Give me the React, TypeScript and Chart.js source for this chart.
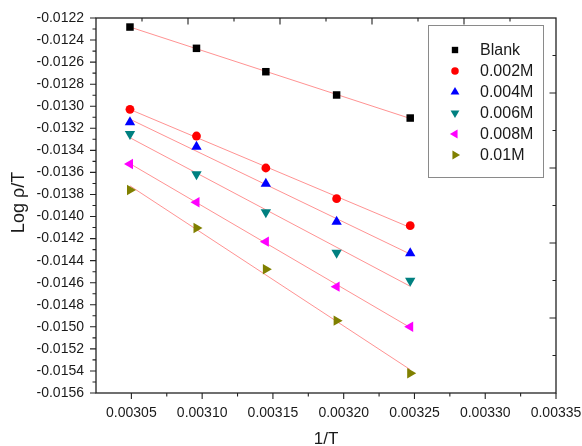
import React, { useEffect, useRef } from 'react';
import { Chart, registerables } from 'chart.js';

Chart.register(...registerables);

// 1/T (K^-1) at the five measuring temperatures
const INV_T = [0.003049, 0.003096, 0.003145, 0.003195, 0.003247];

// Log ρ/T for each inhibitor concentration
const BLANK = [-0.012282, -0.012475, -0.012687, -0.012898, -0.013107];
const C_0002 = [-0.013028, -0.01327, -0.01356, -0.013838, -0.014083];
const C_0004 = [-0.013146, -0.013367, -0.013702, -0.014047, -0.014334];
const C_0006 = [-0.013252, -0.013617, -0.013962, -0.014328, -0.014582];
const C_0008 = [-0.013524, -0.013871, -0.014228, -0.014636, -0.014999];
const C_001 = [-0.01376, -0.014104, -0.014478, -0.014944, -0.015421];

const SERIES_NAMES = ['Blank', '0.002M', '0.004M', '0.006M', '0.008M', '0.01M'];
const SERIES_VALUES = [BLANK, C_0002, C_0004, C_0006, C_0008, C_001];

const X_TICKS = [0.00305, 0.0031, 0.00315, 0.0032, 0.00325, 0.0033, 0.00335];
const Y_TICKS = [
  -0.0156, -0.0154, -0.0152, -0.015, -0.0148, -0.0146, -0.0144, -0.0142, -0.014,
  -0.0138, -0.0136, -0.0134, -0.0132, -0.013, -0.0128, -0.0126, -0.0124, -0.0122,
];
const X_MIN = 0.003025;
const X_MAX = 0.00335;

const MARKERS = [
  { color: '#000000', pointStyle: 'rect', radius: 5.3, rotation: 0 },
  { color: '#ff0000', pointStyle: 'circle', radius: 4.4, rotation: 0 },
  { color: '#0000ff', pointStyle: 'triangle', radius: 6, rotation: 0 },
  { color: '#008080', pointStyle: 'triangle', radius: 6, rotation: 180 },
  { color: '#ff00ff', pointStyle: 'triangle', radius: 6, rotation: -90 },
  { color: '#808000', pointStyle: 'triangle', radius: 6, rotation: 90 },
];

const FONT = "'Liberation Sans', Arial, sans-serif";
const TEXT = '#1a1a1a';
const AXIS = '#222222';

// least-squares line through a series, returned as its two end points
function linearFit(xs: number[], ys: number[]) {
  const n = xs.length;
  const mx = xs.reduce((a, b) => a + b, 0) / n;
  const my = ys.reduce((a, b) => a + b, 0) / n;
  let sxy = 0;
  let sxx = 0;
  for (let i = 0; i < n; i++) {
    sxy += (xs[i] - mx) * (ys[i] - my);
    sxx += (xs[i] - mx) * (xs[i] - mx);
  }
  const slope = sxy / sxx;
  const x0 = xs[0];
  const x1 = xs[n - 1];
  return [
    { x: x0, y: my + slope * (x0 - mx) },
    { x: x1, y: my + slope * (x1 - mx) },
  ];
}

function drawMarker(ctx: CanvasRenderingContext2D, m: any, x: number, y: number, scale = 1) {
  const r = m.radius * scale;
  ctx.save();
  ctx.fillStyle = m.color;
  ctx.beginPath();
  if (m.pointStyle === 'rect') {
    const s = Math.SQRT1_2 * r;
    ctx.rect(x - s, y - s, 2 * s, 2 * s);
  } else if (m.pointStyle === 'circle') {
    ctx.arc(x, y, r, 0, Math.PI * 2);
  } else {
    let rad = (m.rotation * Math.PI) / 180;
    ctx.moveTo(x + Math.sin(rad) * r, y - Math.cos(rad) * r);
    rad += (2 * Math.PI) / 3;
    ctx.lineTo(x + Math.sin(rad) * r, y - Math.cos(rad) * r);
    rad += (2 * Math.PI) / 3;
    ctx.lineTo(x + Math.sin(rad) * r, y - Math.cos(rad) * r);
    ctx.closePath();
  }
  ctx.fill();
  ctx.restore();
}

// frame, tick marks, axis titles and the legend box
const framePlugin = {
  id: 'frame',
  beforeDatasetsDraw(chart: any) {
    const { ctx, chartArea: a, scales } = chart;
    const xs = scales.x;
    const ys = scales.y;
    ctx.save();
    ctx.strokeStyle = AXIS;
    ctx.lineWidth = 1.3;
    ctx.strokeRect(a.left, a.top, a.right - a.left, a.bottom - a.top);

    ctx.lineWidth = 1.1;
    ctx.beginPath();
    // bottom axis: outward ticks
    for (let i = 0; i < X_TICKS.length; i++) {
      const px = xs.getPixelForValue(X_TICKS[i]);
      ctx.moveTo(px, a.bottom);
      ctx.lineTo(px, a.bottom + 6);
      const mid = xs.getPixelForValue(X_TICKS[i] - 0.000025);
      if (mid > a.left + 1) {
        ctx.moveTo(mid, a.bottom);
        ctx.lineTo(mid, a.bottom + 3.5);
      }
    }
    // left axis: outward ticks
    for (let i = 0; i < Y_TICKS.length; i++) {
      const py = ys.getPixelForValue(Y_TICKS[i]);
      ctx.moveTo(a.left, py);
      ctx.lineTo(a.left - 6, py);
      if (i > 0) {
        const mid = ys.getPixelForValue(Y_TICKS[i] - 0.0001);
        ctx.moveTo(a.left, mid);
        ctx.lineTo(a.left - 3.5, mid);
      }
    }
    // top and right axes: inward ticks
    const w = a.right - a.left;
    const h = a.bottom - a.top;
    for (let k = 1; k < 10; k++) {
      const len = k % 2 === 0 ? 6.5 : 3.5;
      const px = a.left + (w * k) / 10;
      ctx.moveTo(px, a.top);
      ctx.lineTo(px, a.top + len);
      const py = a.top + (h * k) / 10;
      ctx.moveTo(a.right, py);
      ctx.lineTo(a.right - len, py);
    }
    ctx.stroke();

    // axis titles
    ctx.fillStyle = TEXT;
    ctx.font = `17px ${FONT}`;
    ctx.textAlign = 'center';
    ctx.textBaseline = 'middle';
    ctx.fillText('1/T', (a.left + a.right) / 2, 439);
    ctx.font = `18px ${FONT}`;
    ctx.translate(19, (a.top + a.bottom) / 2 - 3);
    ctx.rotate(-Math.PI / 2);
    ctx.fillText('Log ρ/T', 0, 0);
    ctx.restore();
  },
  afterDraw(chart: any) {
    const { ctx, chartArea: a } = chart;
    const boxR = a.right - 13;
    const boxL = boxR - 115;
    const boxT = a.top + 7;
    const boxB = boxT + 152;
    ctx.save();
    ctx.fillStyle = '#ffffff';
    ctx.fillRect(boxL, boxT, boxR - boxL, boxB - boxT);
    ctx.strokeStyle = '#8a8a8a';
    ctx.lineWidth = 1;
    ctx.strokeRect(boxL + 0.5, boxT + 0.5, boxR - boxL, boxB - boxT);
    ctx.font = `16px ${FONT}`;
    ctx.textAlign = 'left';
    ctx.textBaseline = 'middle';
    ctx.fillStyle = TEXT;
    for (let i = 0; i < SERIES_NAMES.length; i++) {
      const cy = boxT + 25 + i * 21;
      drawMarker(ctx, MARKERS[i], boxL + 27, cy, 0.85);
      ctx.fillStyle = TEXT;
      ctx.fillText(SERIES_NAMES[i], boxL + 52, cy + 1);
    }
    ctx.restore();
  },
};

export default function App() {
  const ref = useRef<HTMLCanvasElement | null>(null);

  useEffect(() => {
    if (!ref.current) return;

    const fitSets = SERIES_VALUES.map((vals) => ({
      type: 'scatter' as const,
      data: linearFit(INV_T, vals),
      showLine: true,
      borderColor: 'rgba(255, 110, 110, 0.75)',
      borderWidth: 1,
      pointRadius: 0,
      order: 1,
    }));

    const pointSets = SERIES_VALUES.map((vals, i) => ({
      type: 'scatter' as const,
      label: SERIES_NAMES[i],
      data: vals.map((y, j) => ({ x: INV_T[j], y })),
      showLine: false,
      pointStyle: MARKERS[i].pointStyle,
      pointRotation: MARKERS[i].rotation,
      pointRadius: MARKERS[i].radius,
      backgroundColor: MARKERS[i].color,
      borderColor: MARKERS[i].color,
      borderWidth: 0,
      order: 0,
    }));

    const chart = new Chart(ref.current, {
      type: 'scatter',
      data: { datasets: [...fitSets, ...pointSets] as any },
      options: {
        animation: false,
        responsive: false,
        layout: { padding: { left: 0, top: 18, right: 26, bottom: 0 } },
        plugins: { legend: { display: false }, tooltip: { enabled: false } },
        scales: {
          x: {
            type: 'linear',
            min: X_MIN,
            max: X_MAX,
            afterBuildTicks: (s: any) => {
              s.ticks = X_TICKS.map((v) => ({ value: v }));
            },
            afterFit: (s: any) => {
              s.height = 53;
              s.paddingLeft = 0;
              s.paddingRight = 0;
            },
            grid: { display: false },
            border: { display: false },
            ticks: {
              padding: 4,
              color: TEXT,
              font: { family: FONT, size: 14 },
              maxRotation: 0,
              autoSkip: false,
              callback: (v: any) => Number(v).toFixed(5),
            },
          },
          y: {
            type: 'linear',
            min: -0.0156,
            max: -0.0122,
            afterBuildTicks: (s: any) => {
              s.ticks = Y_TICKS.map((v) => ({ value: v }));
            },
            afterFit: (s: any) => {
              s.width = 96;
              s.paddingTop = 0;
              s.paddingBottom = 0;
            },
            grid: { display: false },
            border: { display: false },
            ticks: {
              padding: 4,
              color: TEXT,
              font: { family: FONT, size: 14 },
              autoSkip: false,
              callback: (v: any) => Number(v).toFixed(4),
            },
          },
        },
      },
      plugins: [framePlugin],
    });

    return () => chart.destroy();
  }, []);

  return (
    <div style={{ position: 'absolute', left: 0, top: 0, width: 582, height: 446, background: '#fff' }}>
      <canvas ref={ref} width={582} height={446} style={{ display: 'block' }} />
    </div>
  );
}
